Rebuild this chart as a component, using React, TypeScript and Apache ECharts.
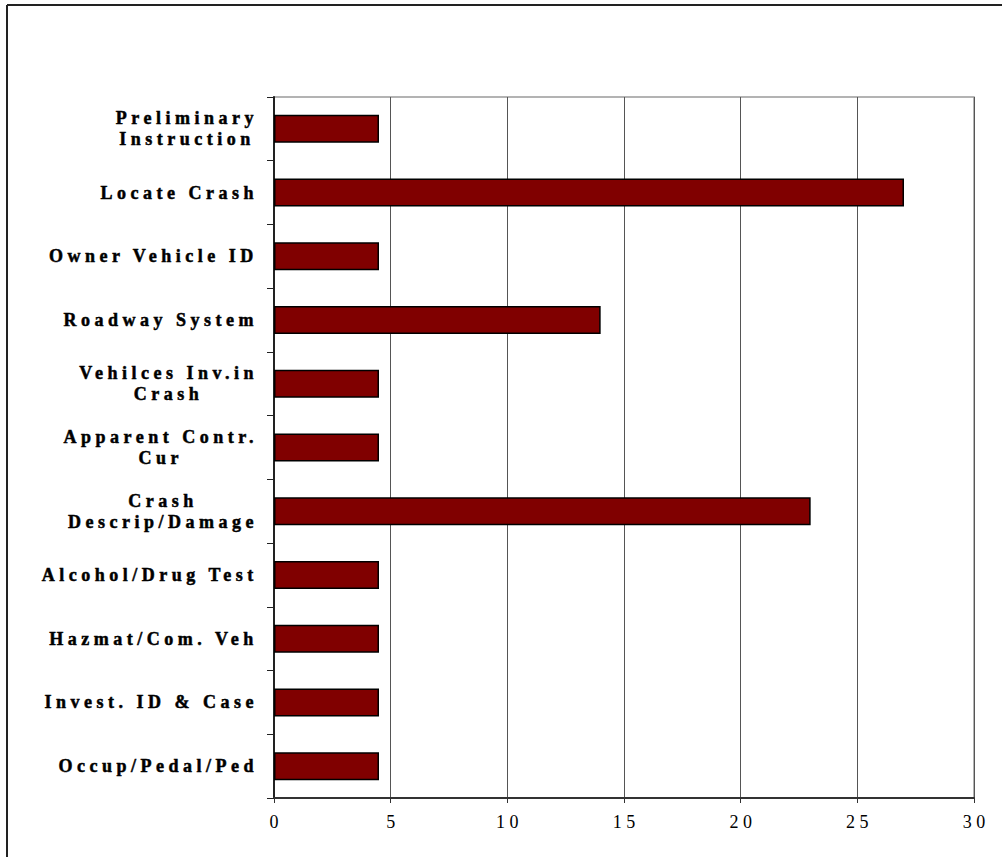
import React, { useEffect, useRef } from 'react';
import * as echarts from 'echarts';

const categories = [
  'Preliminary\nInstruction',
  'Locate Crash',
  'Owner Vehicle ID',
  'Roadway System',
  'Vehilces Inv.in\nCrash',
  'Apparent Contr.\nCur',
  'Crash\nDescrip/Damage',
  'Alcohol/Drug Test',
  'Hazmat/Com. Veh',
  'Invest. ID & Case',
  'Occup/Pedal/Ped',
];
const values = [4.5, 27, 4.5, 14, 4.5, 4.5, 23, 4.5, 4.5, 4.5, 4.5];
const xMin = 0;
const xMax = 30;
const xInterval = 5;

const FAMILY = 'Liberation Serif';
const Y_SIZE = 18;
const LS = 4.5;

function measureWidth(lines: string[]): number {
  const ctx = document.createElement('canvas').getContext('2d');
  if (!ctx) return 150;
  ctx.font = `bold ${Y_SIZE}px "${FAMILY}"`;
  return Math.max(...lines.map((l) => ctx.measureText(l).width + l.length * LS));
}

export default function App() {
  const ref = useRef<HTMLDivElement>(null);
  useEffect(() => {
    if (!ref.current) return;
    const chart = echarts.init(ref.current, undefined, { renderer: 'svg' });
    const rich: Record<string, any> = {};
    categories.forEach((c, i) => {
      rich['r' + i] = {
        width: measureWidth(c.split('\n')),
        align: 'center',
        fontFamily: FAMILY,
        fontWeight: 'bold',
        fontSize: Y_SIZE,
        lineHeight: 21,
        color: '#000',
        textBorderColor: '#000',
        textBorderWidth: 0.5,
      };
    });
    chart.setOption({
      animation: false,
      backgroundColor: '#fff',
      textStyle: { fontFamily: FAMILY },
      grid: {
        left: 274,
        right: 28,
        top: 97,
        bottom: 59,
        show: true,
        borderColor: '#9a9a9a',
        borderWidth: 1.5,
      },
      graphic: [
        { type: 'line', shape: { x1: 7, y1: 5, x2: 7, y2: 857 }, style: { stroke: '#222', lineWidth: 2 } },
        { type: 'line', shape: { x1: 7, y1: 5, x2: 1002, y2: 5 }, style: { stroke: '#222', lineWidth: 2 } },
      ],
      xAxis: {
        type: 'value',
        min: xMin,
        max: xMax,
        interval: xInterval,
        axisLine: { show: true, lineStyle: { color: '#333', width: 2 } },
        axisTick: { show: true, length: 5, lineStyle: { color: '#333', width: 1 } },
        splitLine: { show: true, lineStyle: { color: '#555', width: 1 } },
        axisLabel: {
          margin: 15,
          fontFamily: FAMILY,
          fontSize: 18,
          color: '#000',
          padding: [0, 0, 0, LS],
        },
      },
      yAxis: {
        type: 'category',
        inverse: true,
        data: categories,
        axisLine: { show: true, lineStyle: { color: '#222', width: 2 } },
        axisTick: { show: true, length: 7, lineStyle: { color: '#222', width: 1 } },
        splitLine: { show: false },
        axisLabel: {
          margin: 16,
          interval: 0,
          fontFamily: FAMILY,
          fontWeight: 'bold',
          fontSize: Y_SIZE,
          formatter: (value: string, index: number) =>
            value.split('\n').map((l) => `{r${index}|${l}}`).join('\n'),
          rich,
        },
      },
      series: [
        {
          type: 'bar',
          data: values,
          barWidth: 28,
          itemStyle: { color: '#800000', borderColor: '#000', borderWidth: 1.5 },
        },
      ],
    });
    return () => chart.dispose();
  }, []);
  return (
    <>
      <style>{`#chart-root text { letter-spacing: ${LS}px; }`}</style>
      <div
        id="chart-root"
        ref={ref}
        style={{ position: 'absolute', left: 0, top: 0, width: 1002, height: 857, background: '#fff' }}
      />
    </>
  );
}
